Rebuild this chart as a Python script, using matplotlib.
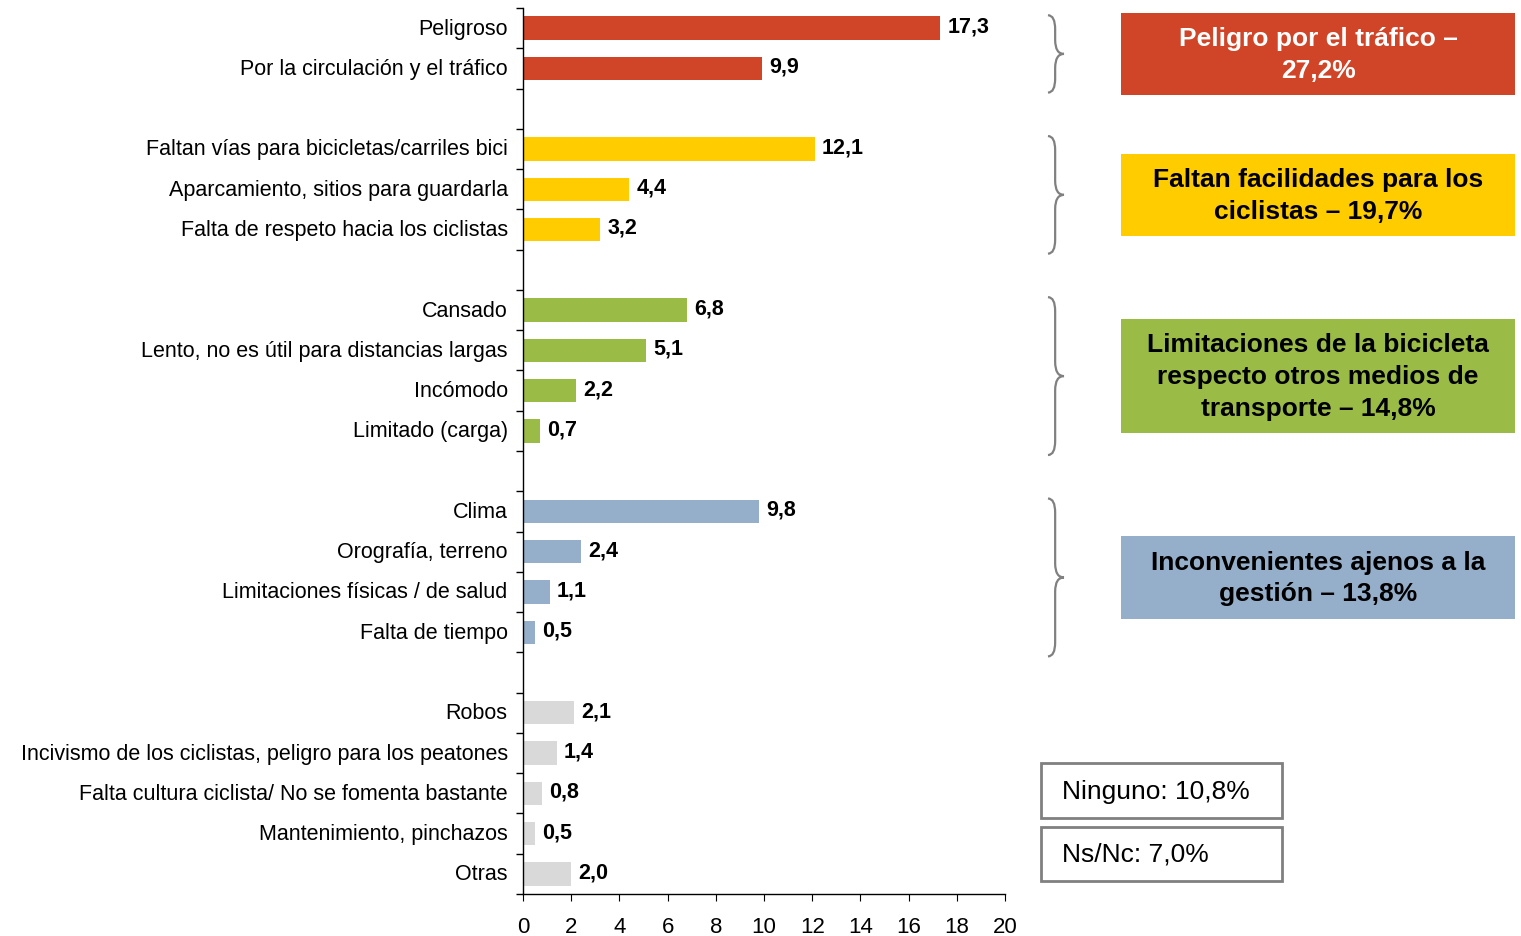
import matplotlib.pyplot as plt
import matplotlib.transforms as mtransforms
from matplotlib.path import Path
from matplotlib.patches import PathPatch, Rectangle

plt.rcParams['font.family'] = ['Liberation Sans', 'DejaVu Sans']

# motivos por grupo (de arriba abajo)
motivos_trafico = ['Peligroso', 'Por la circulación y el tráfico']
valores_trafico = [17.3, 9.9]

motivos_facilidades = ['Faltan vías para bicicletas/carriles bici',
                       'Aparcamiento, sitios para guardarla',
                       'Falta de respeto hacia los ciclistas']
valores_facilidades = [12.1, 4.4, 3.2]

motivos_limitaciones = ['Cansado', 'Lento, no es útil para distancias largas',
                        'Incómodo', 'Limitado (carga)']
valores_limitaciones = [6.8, 5.1, 2.2, 0.7]

motivos_ajenos = ['Clima', 'Orografía, terreno',
                  'Limitaciones físicas / de salud', 'Falta de tiempo']
valores_ajenos = [9.8, 2.4, 1.1, 0.5]

motivos_otros = ['Robos', 'Incivismo de los ciclistas, peligro para los peatones',
                 'Falta cultura ciclista/ No se fomenta bastante',
                 'Mantenimiento, pinchazos', 'Otras']
valores_otros = [2.1, 1.4, 0.8, 0.5, 2.0]

titulos_grupo = ['Peligro por el tráfico –\n{}%',
                 'Faltan facilidades para los\nciclistas – {}%',
                 'Limitaciones de la bicicleta\nrespecto otros medios de\ntransporte – {}%',
                 'Inconvenientes ajenos a la\ngestión – {}%',
                 None]
colores = ['#D04427', '#FFCC00', '#9BBB47', '#95AFCB', '#D9D9D9']
color_texto = ['white', 'black', 'black', 'black', None]

ninguno = 10.8
nsnc = 7.0

grupos = [(motivos_trafico, valores_trafico), (motivos_facilidades, valores_facilidades),
          (motivos_limitaciones, valores_limitaciones), (motivos_ajenos, valores_ajenos),
          (motivos_otros, valores_otros)]


def fmt(v):
    return f'{v:.1f}'.replace('.', ',')


fig = plt.figure(figsize=(15.21, 9.37), dpi=100)
ax = fig.add_axes([523 / 1521, 1 - 895 / 937, 482 / 1521, 886 / 937])

pos_etiquetas = []
etiquetas = []
y = 0
rangos = []
for i, (motivos, valores) in enumerate(grupos):
    ys = list(range(y, y + len(motivos)))
    ax.barh(ys, valores, height=0.58, color=colores[i], zorder=2)
    for yy, v in zip(ys, valores):
        ax.text(v + 0.3, yy - 0.05, fmt(v), va='center', ha='left',
                fontsize=15.5, fontweight='bold')
    pos_etiquetas += ys
    etiquetas += motivos
    rangos.append((ys[0], ys[-1], sum(valores)))
    y += len(motivos) + 1

ax.set_xlim(0, 20)
ax.set_ylim(y - 1.5, -0.5)
ax.set_xticks(range(0, 21, 2))
ax.set_yticks(pos_etiquetas)
ax.set_yticklabels(etiquetas, fontsize=15.5, va='center')
# marcas del eje y entre categorías
ax.set_yticks([b - 0.5 for b in range(y)], minor=True)
ax.tick_params(axis='y', which='major', length=0, pad=11)
ax.tick_params(axis='y', which='minor', length=5, direction='out', width=1)
ax.tick_params(axis='x', length=5, labelsize=16, pad=11)
for s in ['top', 'right']:
    ax.spines[s].set_visible(False)
for s in ['left', 'bottom']:
    ax.spines[s].set_linewidth(1)

# llaves y recuadros con el total de cada grupo
trans = mtransforms.blended_transform_factory(fig.transFigure, ax.transData)


def llave(y0, y1, x0=0.689, w=0.0105):
    xm = x0 + w * 0.45
    xt = x0 + w
    ym = (y0 + y1) / 2
    r = 0.35
    verts = [(x0, y0), (xm, y0), (xm, y0 + r),
             (xm, ym - r), (xm, ym), (xt, ym),
             (xm, ym), (xm, ym + r),
             (xm, y1 - r), (xm, y1), (x0, y1)]
    codes = [Path.MOVETO, Path.CURVE3, Path.CURVE3,
             Path.LINETO, Path.CURVE3, Path.CURVE3,
             Path.CURVE3, Path.CURVE3,
             Path.LINETO, Path.CURVE3, Path.CURVE3]
    ax.add_patch(PathPatch(Path(verts, codes), transform=trans, fill=False,
                           edgecolor='#808080', linewidth=1.6, clip_on=False))


for i, (ini, fin, total) in enumerate(rangos):
    if titulos_grupo[i] is None:
        continue
    y0 = ini - 0.32
    y1 = fin + 0.6
    llave(y0, y1)
    ym = (y0 + y1) / 2
    texto = titulos_grupo[i].format(fmt(total))
    n = texto.count('\n') + 1
    h = n * 0.8 + 0.45
    ax.add_patch(Rectangle((1121 / 1521, ym - h / 2), 394 / 1521, h,
                           transform=trans, facecolor=colores[i],
                           edgecolor='none', clip_on=False))
    ax.text((1121 + 197) / 1521, ym, texto, transform=trans, ha='center',
            va='center', fontsize=19, fontweight='bold',
            color=color_texto[i], linespacing=1.4)

# recuadros de Ninguno y Ns/Nc
for texto, (yb, yt) in [(f'Ninguno: {fmt(ninguno)}%', (819, 764)),
                        (f'Ns/Nc: {fmt(nsnc)}%', (882, 828))]:
    fig.patches.append(Rectangle((1041 / 1521, 1 - yb / 937), 241 / 1521,
                                 (yb - yt) / 937, transform=fig.transFigure,
                                 facecolor='white', edgecolor='#808080',
                                 linewidth=2))
    fig.text(1062 / 1521, 1 - (yb + yt) / 2 / 937, texto, ha='left',
             va='center', fontsize=19)

fig.savefig('out.png', dpi=100)
